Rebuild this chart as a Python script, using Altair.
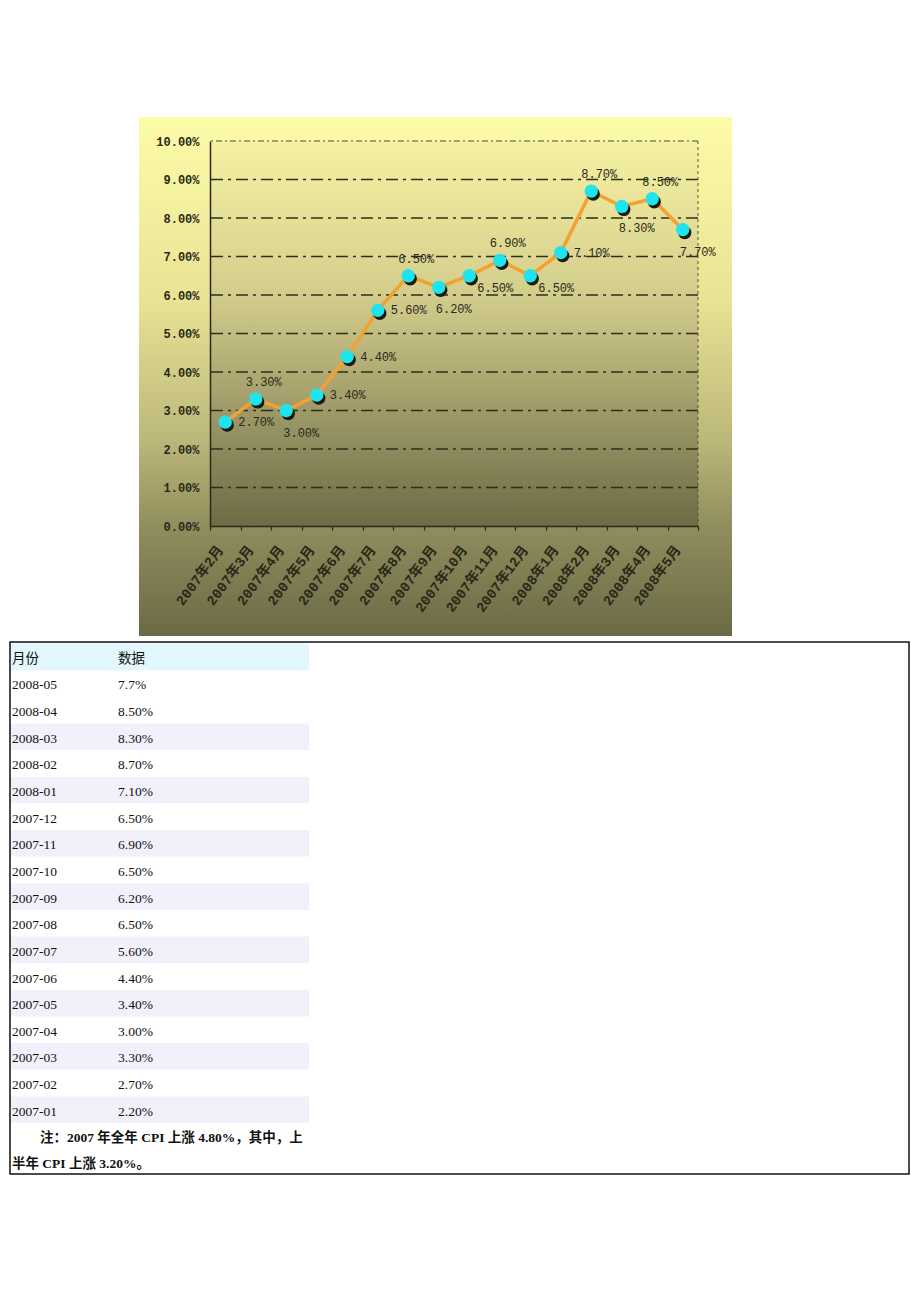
import altair as alt
import pandas as pd

# ---------------- chart data ----------------
months = ["2007年2月", "2007年3月", "2007年4月", "2007年5月", "2007年6月", "2007年7月",
          "2007年8月", "2007年9月", "2007年10月", "2007年11月", "2007年12月",
          "2008年1月", "2008年2月", "2008年3月", "2008年4月", "2008年5月"]
cpi = [2.7, 3.3, 3.0, 3.4, 4.4, 5.6, 6.5, 6.2, 6.5, 6.9, 6.5, 7.1, 8.7, 8.3, 8.5, 7.7]
label_side = ["right", "above", "below", "right", "right", "right", "above", "below",
              "belowright", "above", "belowright", "right", "above", "below", "above", "below"]
y_ticks = [0, 1, 2, 3, 4, 5, 6, 7, 8, 9, 10]
grid_levels = [1, 2, 3, 4, 5, 6, 7, 8, 9]
top_level = [10]

# ---------------- table data ----------------
headers = ["月份", "数据"]
table_months = ["2008-05", "2008-04", "2008-03", "2008-02", "2008-01", "2007-12",
                "2007-11", "2007-10", "2007-09", "2007-08", "2007-07", "2007-06",
                "2007-05", "2007-04", "2007-03", "2007-02", "2007-01"]
table_values = ["7.7%", "8.50%", "8.30%", "8.70%", "7.10%", "6.50%", "6.90%", "6.50%",
                "6.20%", "6.50%", "5.60%", "4.40%", "3.40%", "3.00%", "3.30%", "2.70%", "2.20%"]
notes = ["注：2007 年全年 CPI 上涨 4.80%，其中，上", "半年 CPI 上涨 3.20%。"]

MONO = "Liberation Mono, Noto Sans CJK SC"
SERIF = "Liberation Serif, Noto Sans CJK SC"
INK = "#2a2918"

df = pd.DataFrame({
    "month": months,
    "cpi": cpi,
    "label": [f"{v:.2f}%" for v in cpi],
    "side": label_side,
})

xscale = alt.Scale(type="band", domain=months, paddingInner=0, paddingOuter=0)
yscale = alt.Scale(domain=[0, 10], nice=False, zero=True)


def vgrad(stops):
    return alt.LinearGradient(
        gradient="linear", x1=0, x2=0, y1=0, y2=1,
        stops=[alt.GradientStop(color=c, offset=o) for o, c in stops],
    )


outer_grad = vgrad([(0, "#fdfca8"), (0.35, "#e9e394"), (0.62, "#bcb87a"),
                    (0.8, "#8e8b5c"), (1, "#6b6a45")])
inner_grad = vgrad([(0, "#f6f2a2"), (0.4, "#d3cd8c"), (0.7, "#9e9a68"),
                    (0.9, "#7c7a50"), (1, "#6e6c47")])

one = pd.DataFrame({"k": [0]})
bg = alt.Chart(one).mark_rect(fill=outer_grad).encode(
    x=alt.value(-71), x2=alt.value(522), y=alt.value(-24), y2=alt.value(495)
)
plot_bg = alt.Chart(one).mark_rect(fill=inner_grad).encode(
    x=alt.value(0), x2=alt.value(488), y=alt.value(0), y2=alt.value(385)
)

base = alt.Chart(df)

x_axis = alt.Axis(
    title=None, tickBand="extent", labelAngle=306, labelAlign="right",
    labelBaseline="middle", labelPadding=17, labelOffset=-5, labelFont=MONO,
    labelFontSize=14, labelFontWeight="bold", labelColor=INK, domainColor=INK,
    domainWidth=1.5, tickColor=INK, tickSize=4, tickWidth=1.2, grid=False,
    labelOverlap=False, zindex=2,
)
y_axis = alt.Axis(
    title=None, values=y_ticks, labelExpr="format(datum.value, '.2f') + '%'",
    ticks=False, grid=False, domainColor=INK, domainWidth=1.5, labelPadding=11,
    labelFont=MONO, labelFontSize=12, labelFontWeight="bold", labelColor=INK,
    zindex=2,
)

X = alt.X("month:N", sort=months, scale=xscale, axis=x_axis)
Y = alt.Y("cpi:Q", scale=yscale, axis=y_axis)

grid = alt.Chart(pd.DataFrame({"lvl": grid_levels})).mark_rule(
    color="#2f2e1c", strokeWidth=1.6, strokeDash=[12, 5, 3, 5]
).encode(y=alt.Y("lvl:Q", scale=yscale, axis=y_axis))

top_grid = alt.Chart(pd.DataFrame({"lvl": top_level})).mark_rule(
    color="#4a4930", strokeWidth=1, strokeDash=[6, 3, 2, 3]
).encode(y=alt.Y("lvl:Q", scale=yscale, axis=y_axis))

right_edge = alt.Chart(one).mark_rule(
    color="#55543a", strokeWidth=1, strokeDash=[3, 3]
).encode(x=alt.value(488), y=alt.value(0), y2=alt.value(385))

line = base.mark_line(color="#f2a132", strokeWidth=3.5).encode(x=X, y=Y)
shadow = base.mark_circle(size=178, color="#1b1b12", opacity=1, xOffset=2, yOffset=3).encode(x=X, y=Y)
dots = base.mark_circle(size=178, color="#1fe3ee", opacity=1).encode(x=X, y=Y)


def labels(side, align, dx, dy):
    return base.transform_filter(alt.datum.side == side).mark_text(
        align=align, baseline="middle", dx=dx, dy=dy, font=MONO, fontSize=12,
        color=INK,
    ).encode(x=X, y=Y, text="label:N")


plot = alt.layer(
    plot_bg, grid, top_grid, right_edge, line, shadow, dots,
    labels("right", "left", 13, 0),
    labels("above", "center", 8, -17),
    labels("below", "center", 15, 22),
    labels("belowright", "center", 26, 12),
)

# ---------------- table ----------------
n_rows = 1 + len(table_months) + len(notes)
row_keys = [f"r{i}" for i in range(n_rows)]
row_h = 26.64
ty_scale = alt.Scale(type="band", domain=row_keys, range=[502.5, 502.5 + row_h * n_rows],
                     paddingInner=0, paddingOuter=0)
tx_scale = alt.Scale(type="point", domain=headers, range=[-198, -92], padding=0)

cells = []
for h in headers:
    cells.append({"key": "r0", "col": h, "txt": h})
for i, (m, v) in enumerate(zip(table_months, table_values)):
    cells.append({"key": f"r{i+1}", "col": headers[0], "txt": m})
    cells.append({"key": f"r{i+1}", "col": headers[1], "txt": v})
cells_df = pd.DataFrame(cells)

stripe_rows = list(range(3, len(table_months) + 1, 2))
bands = pd.DataFrame({
    "key": ["r0"] + [f"r{i}" for i in stripe_rows],
    "kind": ["head"] + ["stripe"] * len(stripe_rows),
})
TY = alt.Y("key:N", scale=ty_scale, axis=None)
TX = alt.X("col:N", scale=tx_scale, axis=None)

band_rect = alt.Chart(bands).mark_rect().encode(
    y=TY, x=alt.value(-200), x2=alt.value(99),
    fill=alt.Fill("kind:N", scale=alt.Scale(domain=["head", "stripe"],
                                            range=["#e3f8fc", "#f3f0fb"]), legend=None),
)
cell_text = alt.Chart(cells_df).mark_text(
    align="left", baseline="middle", dy=2, font=SERIF, fontSize=13.5, color="#111111"
).encode(y=TY, x=TX, text="txt:N")

notes_df = pd.DataFrame({
    "key": [f"r{1 + len(table_months) + j}" for j in range(len(notes))],
    "col": [headers[0]] * len(notes),
    "txt": notes,
})
note1 = alt.Chart(notes_df.iloc[[0]]).mark_text(
    align="left", baseline="middle", dy=2, dx=28, font=SERIF, fontSize=13.5,
    fontWeight="bold", color="#111111"
).encode(y=TY, x=TX, text="txt:N")
note2 = alt.Chart(notes_df.iloc[[1]]).mark_text(
    align="left", baseline="middle", dy=1, font=SERIF, fontSize=13.5,
    fontWeight="bold", color="#111111"
).encode(y=TY, x=TX, text="txt:N")
border = alt.Chart(one).mark_rect(
    filled=False, stroke="#111111", strokeWidth=1.5
).encode(x=alt.value(-200), x2=alt.value(699), y=alt.value(501), y2=alt.value(1033))

table = alt.layer(band_rect, cell_text, note1, note2, border)

chart = alt.layer(bg, plot, table).resolve_scale(
    x="independent", y="independent", fill="independent"
).properties(
    width=488, height=385,
    padding={"left": 210, "top": 141, "right": 222, "bottom": 776},
    autosize="none", background="white",
).configure_view(stroke=None)

chart.save("out.html", embed_options={"renderer": "svg", "actions": False})
